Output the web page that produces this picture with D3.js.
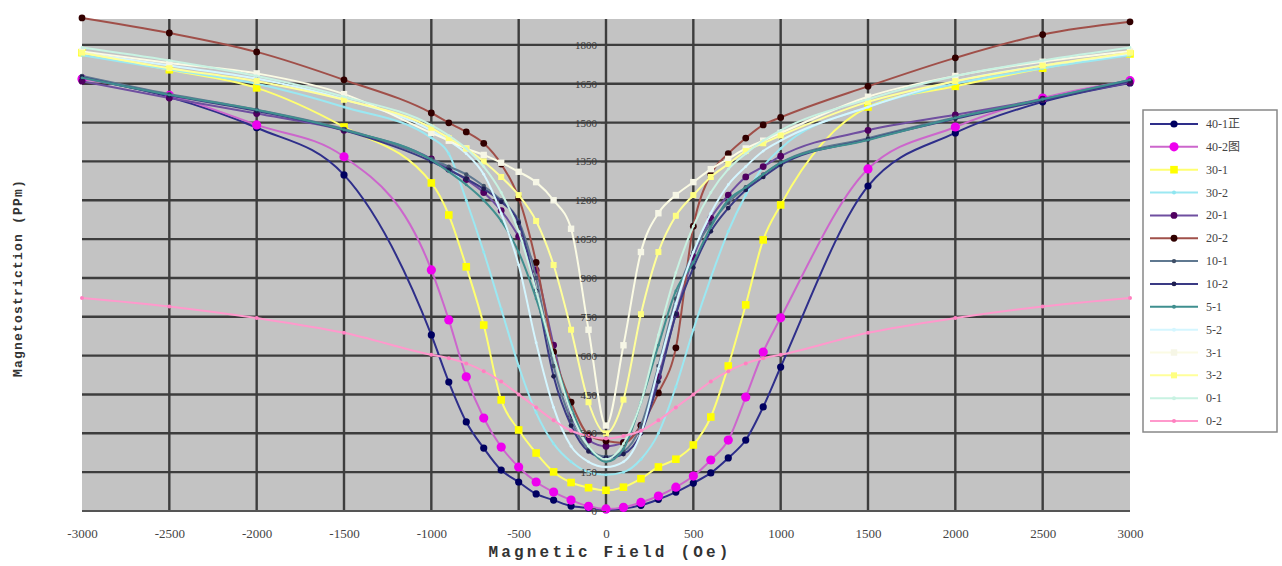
<!DOCTYPE html>
<html>
<head>
<meta charset="utf-8">
<script src="https://cdn.jsdelivr.net/npm/d3@7"></script>
<style>
  body { margin: 0; background: #fff; }
  text { font-family: "Liberation Serif", "DejaVu Serif", serif; }
</style>
</head>
<body>
<svg width="1282" height="566"></svg>
<script>
// field values (Oe), shared by every series
var fieldOe = [-3000,-2500,-2000,-1500,-1000,-900,-800,-700,-600,-500,-400,-300,-200,-100,0,
  100,200,300,400,500,600,700,800,900,1000,1500,2000,2500,3000];

// magnetostriction (ppm)
var s40_1 = [1673,1599,1480,1298, 680,498,344,243,158,112,66,42,19,12, 5, 10,22,45,73,108,147,205,274,402,556, 1255,1460,1580,1653];
var s40_2 = [1668,1605,1491,1368, 931,738,518,359,247,170,112,73,42,18, 8, 14,33,58,92,135,197,274,440,614,746, 1321,1483,1595,1662];
var s30_1 = [1770,1704,1634,1483, 1267,1143,943,718,429,313,224,151,110,90, 80, 92,125,170,200,255,363,560,796,1047,1182, 1560,1640,1710,1765];
var s30_2 = [1760,1705,1650,1560, 1441,1380,1200,1000,780,560,380,260,190,150, 140, 150,200,300,480,700,900,1080,1220,1330,1400, 1560,1650,1710,1760];
var s20_1 = [1660,1595,1535,1470, 1360,1320,1280,1230,1160,1060,930,640,371,274, 250, 265,332,518,760,980,1130,1220,1290,1330,1370, 1470,1530,1590,1655];
var s20_2 = [1904,1846,1773,1665, 1537,1499,1464,1420,1340,1209,960,614,420,294, 270, 263,330,456,630,1100,1300,1380,1440,1491,1520, 1640,1750,1840,1889];
var s10_1 = [1680,1610,1550,1475, 1360,1330,1300,1255,1200,1120,900,560,350,240, 210, 230,330,560,820,1000,1110,1190,1250,1300,1345, 1440,1520,1590,1665];
var s10_2 = [1675,1605,1545,1470, 1350,1317,1283,1244,1194,1113,850,520,330,230, 205, 220,300,500,760,940,1080,1170,1240,1290,1337, 1435,1515,1585,1660];
var s5_1 = [1673,1607,1549,1472, 1356,1310,1260,1200,1120,1000,820,600,400,250, 190, 240,420,640,850,960,1097,1201,1250,1300,1344, 1433,1518,1590,1665];
var s5_2 = [1770,1720,1670,1590, 1470,1430,1380,1300,1150,950,650,400,250,190, 170, 190,300,550,800,1000,1150,1260,1330,1390,1430, 1560,1660,1720,1765];
var s3_1 = [1775,1730,1690,1610, 1460,1430,1400,1375,1345,1310,1270,1200,1090,700, 330, 640,1000,1150,1220,1270,1320,1360,1400,1430,1460, 1600,1680,1735,1775];
var s3_2 = [1770,1710,1660,1588, 1480,1440,1400,1350,1290,1220,1120,950,700,420, 300, 430,760,1000,1140,1220,1290,1340,1390,1420,1450, 1580,1660,1720,1770];
var s0_1 = [1790,1740,1680,1600, 1490,1450,1400,1330,1230,1080,850,600,380,250, 200, 260,420,680,920,1100,1230,1320,1380,1430,1470, 1590,1680,1740,1790];
var s0_2 = [823,790,745,688, 603,590,570,540,500,450,400,350,310,290, 280, 290,310,350,400,450,500,540,570,590,603, 688,745,790,823];

var seriesNames = ["40-1正","40-2图","30-1","30-2","20-1","20-2","10-1","10-2","5-1","5-2","3-1","3-2","0-1","0-2"];
var seriesValues = [s40_1,s40_2,s30_1,s30_2,s20_1,s20_2,s10_1,s10_2,s5_1,s5_2,s3_1,s3_2,s0_1,s0_2];

var xTickValues = [-3000,-2500,-2000,-1500,-1000,-500,0,500,1000,1500,2000,2500,3000];
var yTickValues = [0,150,300,450,600,750,900,1050,1200,1350,1500,1650,1800];

// look of each series
var styles = [
  { line: "#2e2e8a", fill: "#000060", shape: "circle", r: 3.6 },
  { line: "#cc66cc", fill: "#ee00ee", shape: "circle", r: 4.6 },
  { line: "#ffff70", fill: "#ffff00", shape: "square", r: 3.8 },
  { line: "#9be8f2", fill: "#8fe6f0", shape: "circle", r: 1.5 },
  { line: "#6f4fa0", fill: "#500060", shape: "circle", r: 3.4 },
  { line: "#a0504a", fill: "#300000", shape: "circle", r: 3.4 },
  { line: "#5f7890", fill: "#405068", shape: "circle", r: 2.2 },
  { line: "#3a3a84", fill: "#1f1f50", shape: "circle", r: 2.4 },
  { line: "#3f8f8f", fill: "#3f8f8f", shape: "circle", r: 1.4 },
  { line: "#d4f6ff", fill: "#d4f6ff", shape: "circle", r: 1.4 },
  { line: "#fbfbe4", fill: "#f6f6e6", shape: "square", r: 3.2 },
  { line: "#ffff9a", fill: "#ffff80", shape: "square", r: 3.0 },
  { line: "#c8f2e2", fill: "#c8f2e2", shape: "circle", r: 1.4 },
  { line: "#ff99cc", fill: "#ff80c0", shape: "circle", r: 2.0 }
];

var svg = d3.select("svg"),
  width = +svg.attr("width"),
  height = +svg.attr("height");

var x = d3.scaleLinear().domain([-3000, 3000]).range([82, 1130]);
var y = d3.scaleLinear().domain([0, 1900]).range([511, 19]);

var defs = svg.append("defs");
defs.append("filter").attr("id", "soft")
  .append("feGaussianBlur").attr("stdDeviation", 0.7);

var plot = svg.append("g").attr("filter", "url(#soft)");

plot.append("rect")
  .attr("x", x(-3000)).attr("y", y(1900))
  .attr("width", x(3000) - x(-3000)).attr("height", y(0) - y(1900))
  .attr("fill", "#c3c3c3");

// grid
plot.append("g").selectAll("line")
  .data(yTickValues.filter(function (d) { return d > 0; }))
  .enter().append("line")
  .attr("x1", x(-3000)).attr("x2", x(3000))
  .attr("y1", function (d) { return y(d); }).attr("y2", function (d) { return y(d); })
  .attr("stroke", "#3c3c3c").attr("stroke-width", 2.4);

plot.append("g").selectAll("line")
  .data(xTickValues.filter(function (d) { return d > -3000 && d < 3000; }))
  .enter().append("line")
  .attr("y1", y(1900)).attr("y2", y(0))
  .attr("x1", function (d) { return x(d); }).attr("x2", function (d) { return x(d); })
  .attr("stroke", "#3c3c3c").attr("stroke-width", 2.4);

plot.append("line")
  .attr("x1", x(-3000)).attr("x2", x(3000)).attr("y1", y(0)).attr("y2", y(0))
  .attr("stroke", "#555").attr("stroke-width", 2);

// series
var line = d3.line()
  .x(function (d, i) { return x(fieldOe[i]); })
  .y(function (d) { return y(d); })
  .curve(d3.curveMonotoneX);

function drawMarker(g, st, cx, cy) {
  if (st.shape === "square") {
    g.append("rect")
      .attr("x", cx - st.r).attr("y", cy - st.r)
      .attr("width", st.r * 2).attr("height", st.r * 2)
      .attr("fill", st.fill);
  } else {
    g.append("circle")
      .attr("cx", cx).attr("cy", cy).attr("r", st.r)
      .attr("fill", st.fill);
  }
}

seriesValues.forEach(function (vals, k) {
  var st = styles[k];
  var g = plot.append("g").attr("class", "series");
  g.append("path")
    .attr("d", line(vals))
    .attr("fill", "none")
    .attr("stroke", st.line)
    .attr("stroke-width", 2);
  vals.forEach(function (v, i) {
    drawMarker(g, st, x(fieldOe[i]), y(v));
  });
});

// y axis sits on x = 0
var yAxis = svg.append("g")
  .attr("transform", "translate(" + x(0) + ",0)")
  .call(d3.axisLeft(y).tickValues(yTickValues).tickSize(5).tickPadding(4)
    .tickFormat(d3.format("d")));
yAxis.select(".domain").remove();
yAxis.selectAll("line").attr("stroke", "#444");
yAxis.selectAll("text")
  .style("font-family", "'Liberation Serif', serif")
  .style("font-size", "11px")
  .attr("fill", "#3a3a3a");

// x axis labels under the plot
var xAxis = svg.append("g")
  .attr("transform", "translate(0," + y(0) + ")")
  .call(d3.axisBottom(x).tickValues(xTickValues).tickSize(0).tickPadding(18)
    .tickFormat(function (d) { return String(d); }));
xAxis.select(".domain").remove();
xAxis.selectAll("text")
  .style("font-family", "'Liberation Serif', serif")
  .style("font-size", "13px")
  .attr("fill", "#444");

// titles
svg.append("text")
  .attr("x", 610).attr("y", 557)
  .attr("text-anchor", "middle")
  .style("font-family", "'Liberation Mono', monospace")
  .style("font-size", "16px")
  .style("font-weight", "bold")
  .style("letter-spacing", "3.2px")
  .attr("fill", "#333")
  .text("Magnetic Field (Oe)");

svg.append("text")
  .attr("transform", "translate(22,278) rotate(-90)")
  .attr("text-anchor", "middle")
  .style("font-family", "'Liberation Mono', monospace")
  .style("font-size", "13px")
  .style("font-weight", "bold")
  .style("letter-spacing", "1.2px")
  .attr("fill", "#333")
  .text("Magnetostriction (PPm)");

// legend
var legend = svg.append("g");
legend.append("rect")
  .attr("x", 1143).attr("y", 110).attr("width", 134).attr("height", 322)
  .attr("fill", "#fff").attr("stroke", "#888").attr("stroke-width", 1.5);

seriesNames.forEach(function (name, k) {
  var st = styles[k];
  var ly = 124 + k * 22.85;
  var g = legend.append("g");
  g.append("line")
    .attr("x1", 1150).attr("x2", 1198).attr("y1", ly).attr("y2", ly)
    .attr("stroke", st.line).attr("stroke-width", 2);
  drawMarker(g, { shape: st.shape, r: Math.max(st.r, 2), fill: st.fill }, 1174, ly);
  g.append("text")
    .attr("x", 1206).attr("y", ly + 4)
    .style("font-family", "'Liberation Serif', 'Noto Sans CJK SC', serif")
    .style("font-size", "12px")
    .attr("fill", "#444")
    .text(name);
});
</script>
</body>
</html>
